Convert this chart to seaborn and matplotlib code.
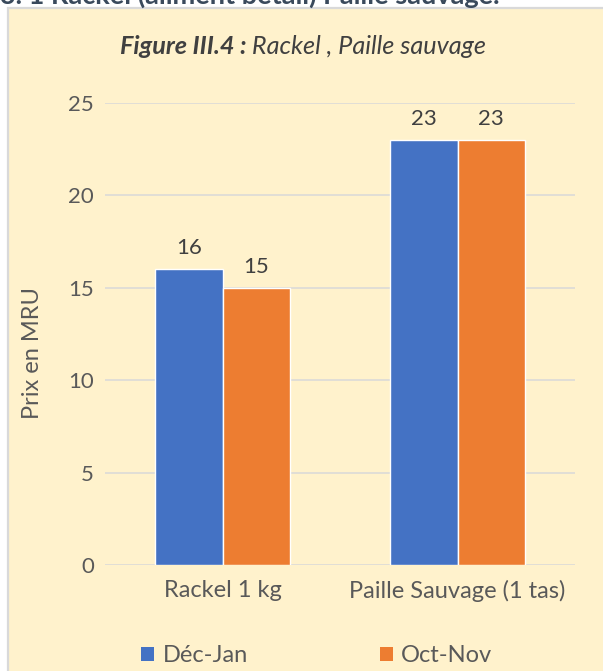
import matplotlib
matplotlib.use('Agg')
import matplotlib.pyplot as plt
from matplotlib.patches import Rectangle, Patch
import pandas as pd
import seaborn as sns

# data
produits = ['Rackel 1 kg', 'Paille Sauvage (1 tas)']
periodes = ['Déc-Jan', 'Oct-Nov']
prix_dec_jan = [16, 23]
prix_oct_nov = [15, 23]
couleurs = ['#4472C4', '#ED7D31']
yticks = [0, 5, 10, 15, 20, 25]

df = pd.DataFrame({
    'produit': produits * 2,
    'periode': [periodes[0]] * 2 + [periodes[1]] * 2,
    'prix': prix_dec_jan + prix_oct_nov,
})

sns.set_style('white')
plt.rcParams['font.family'] = ['Lato', 'DejaVu Sans']
txt = '#595959'

fig = plt.figure(figsize=(6.03, 6.71), dpi=100)
fig.patch.set_facecolor('white')

# cream frame, cut by the right and bottom edges
W, H = 603, 671
fig.patches.append(Rectangle((8 / W, -0.05), 1.1, 1 - 8 / H + 0.05,
                             transform=fig.transFigure, facecolor='#FFF2CC',
                             edgecolor='#D9D9D9', linewidth=1.6, zorder=-5))

# heading of the section, cut off at the top of the page
fig.text(0 / W, 1 - 4 / H, '3. 1 Rackel (aliment bétail) Paille sauvage.',
         fontsize=19.5, fontweight='bold', color='#3A4A5C',
         va='baseline', ha='left')

ax = fig.add_axes([105 / W, 1 - 565 / H, 470 / W, (565 - 103) / H])
ax.set_facecolor('none')

sns.barplot(data=df, x='produit', y='prix', hue='periode', palette=couleurs,
            width=0.575, saturation=1, ax=ax, legend=False, zorder=3)

ax.set_ylim(0, 25)
ax.set_yticks(yticks)
ax.yaxis.grid(True, color='#D9D9D9', linewidth=1.1, zorder=0)
ax.set_axisbelow(True)
for s in ax.spines.values():
    s.set_visible(False)
ax.tick_params(axis='y', length=0, pad=8, labelsize=16, labelcolor=txt)
ax.tick_params(axis='x', length=0, pad=11, labelsize=17, labelcolor=txt)
ax.set_xlabel('')
ax.set_ylabel('Prix en MRU', fontsize=17, color=txt)
ax.yaxis.set_label_coords(-0.132, 0.459)

for cont in ax.containers:
    ax.bar_label(cont, fmt='%d', padding=8, fontsize=16, color='#404040')

# legend at the bottom
handles = [Patch(facecolor=c, edgecolor='none') for c in couleurs]
fig.legend(handles, periodes, loc='center', bbox_to_anchor=(317 / W, 15 / H),
           ncol=2, frameon=False, fontsize=17, labelcolor=txt,
           handlelength=0.55, handleheight=0.55, handletextpad=0.35,
           columnspacing=5.6, borderpad=0)

# title: bold italic label + italic text
fig.canvas.draw()
r = fig.canvas.get_renderer()
ty = 1 - 46 / H
t1 = fig.text(0, ty, 'Figure III.4 :', fontsize=18.2, fontweight='bold',
              fontstyle='italic', color='#404040', va='center', ha='left')
t2 = fig.text(0, ty, ' Rackel , Paille sauvage', fontsize=18.2,
              fontstyle='italic', color='#404040', va='center', ha='left')
w1 = t1.get_window_extent(r).width / fig.bbox.width
w2 = t2.get_window_extent(r).width / fig.bbox.width
x0 = 303 / W - (w1 + w2) / 2
t1.set_x(x0)
t2.set_x(x0 + w1)

fig.savefig('out.png', dpi=100)
